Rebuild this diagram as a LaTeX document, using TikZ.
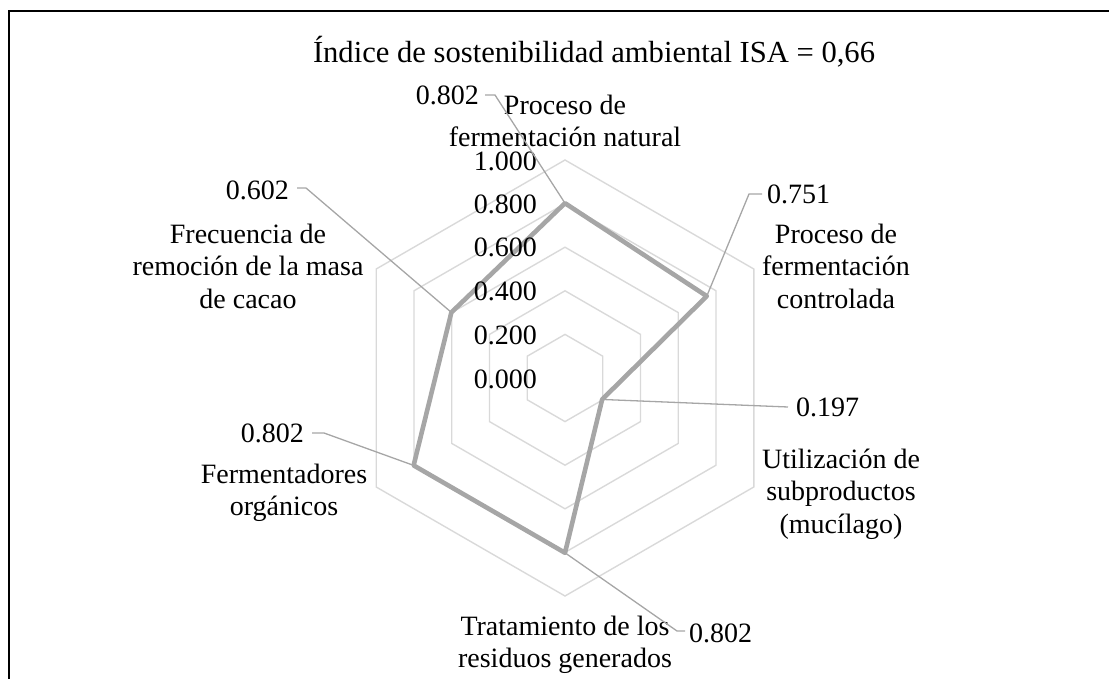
\documentclass[tikz,border=0pt]{standalone}
\usepackage{fontspec}
\setmainfont{Liberation Serif}
\usetikzlibrary{calc}
\tikzset{
  gridline/.style={draw=black!15, line width=1.4pt},
  dataline/.style={draw=black!35, line width=4.6pt, line join=round},
  leader/.style={draw=black!35, line width=1.3pt},
  lab/.style={font=\fontsize{28}{32.5}\selectfont, align=center, inner sep=0pt},
  val/.style={font=\fontsize{28}{32.5}\selectfont, inner sep=0pt},
  tick/.style={font=\fontsize{28}{32.5}\selectfont, inner sep=0pt, anchor=east},
  frame/.style={draw=black, line width=2.2pt}
}
\begin{document}
\begin{tikzpicture}[x=1pt,y=-1pt]
\useasboundingbox (0,0) rectangle (1109,679);
\draw[frame] (9,679) -- (9,11) -- (1109,11);
\node[font=\fontsize{30.6}{36}\selectfont, inner sep=0pt] (title) at (594,52) {Índice de sostenibilidad ambiental ISA = 0,66};
\begin{scope}[shift={(565,378)}]
  \foreach \r in {43.6,87.2,130.8,174.4,218}
    \draw[gridline] (-90:\r) -- (-30:\r) -- (30:\r) -- (90:\r) -- (150:\r) -- (210:\r) -- cycle;
  \coordinate (p1) at (-90:174.8);
  \coordinate (p2) at (-30:163.7);
  \coordinate (p3) at (30:42.9);
  \coordinate (p4) at (90:174.8);
  \coordinate (p5) at (150:174.8);
  \coordinate (p6) at (210:131.2);
\end{scope}
\draw[dataline] (p1) -- (p2) -- (p3) -- (p4) -- (p5) -- (p6) -- cycle;
% ticks
\node[tick] (t0) at (537,379) {0.000};
\node[tick] (t2) at (537,335) {0.200};
\node[tick] (t4) at (537,291) {0.400};
\node[tick] (t6) at (537,247) {0.600};
\node[tick] (t8) at (537,204) {0.800};
\node[tick] (t10) at (537,161) {1.000};
% category labels
\node[lab] (l1) at (565,121) {Proceso de\\fermentación natural};
\node[lab] (l2) at (836,266) {Proceso de\\fermentación\\controlada};
\node[lab] (l3) at (841,494) {Utilización de\\subproductos\\(mucílago)};
\node[lab] (l4) at (565,645) {Tratamiento de los\\residuos generados};
\node[lab] (l5) at (284,493) {Fermentadores\\orgánicos};
\node[lab] (l6) at (248,266) {Frecuencia de\\remoción de la masa\\de cacao};
% value labels
\node[val, anchor=east] (v1) at (479,95) {0.802};
\node[val, anchor=west] (v2) at (767,194) {0.751};
\node[val, anchor=west] (v3) at (796,407) {0.197};
\node[val, anchor=west] (v4) at (689,633) {0.802};
\node[val, anchor=east] (v5) at (304,433) {0.802};
\node[val, anchor=east] (v6) at (289,190) {0.602};
% leaders
\draw[leader] ($(v1.east)+(6,0)$) -- ++(10,0) -- (p1);
\draw[leader] ($(v2.west)+(-5,0)$) -- ++(-13,0) -- (p2);
\draw[leader] (p3) -- ($(v3.west)+(-8,0)$);
\draw[leader] (p4) -- ($(v4.west)+(-12,-2)$) -- ($(v4.west)+(-4,-2)$);
\draw[leader] ($(v5.east)+(8,0)$) -- ++(12,0) -- (p5);
\draw[leader] ($(v6.east)+(8,-2)$) -- ++(9,0) -- (p6);
\end{tikzpicture}
\end{document}
